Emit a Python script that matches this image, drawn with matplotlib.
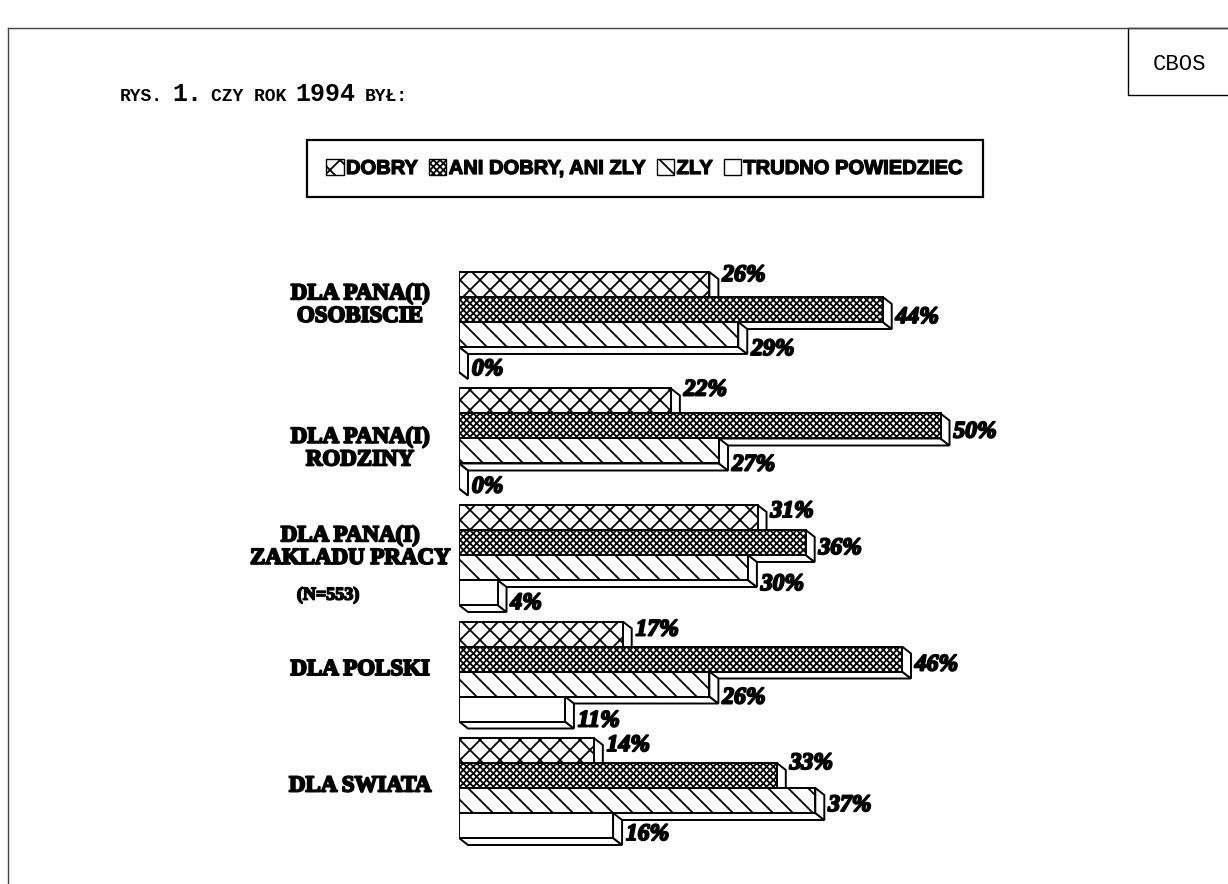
import matplotlib
matplotlib.use("Agg")
import matplotlib.pyplot as plt
from matplotlib.patches import Polygon, Patch, Rectangle
from matplotlib.lines import Line2D
import matplotlib.patheffects as pe

# data (percent)
categories = ["DLA PANA(I)\nOSOBISCIE", "DLA PANA(I)\nRODZINY",
              "DLA PANA(I)\nZAKLADU PRACY", "DLA POLSKI", "DLA SWIATA"]
series = ["DOBRY", "ANI DOBRY, ANI ZLY", "ZLY", "TRUDNO POWIEDZIEC"]
dobry = [26, 22, 31, 17, 14]
ani = [44, 50, 36, 46, 33]
zly = [29, 27, 30, 26, 37]
trudno = [0, 0, 4, 11, 16]
values = [dobry, ani, zly, trudno]

# styles
hatches = ["x", "xxx", "\\", ""]
# vertical nudge of the value labels (pixels, down positive)
label_shift = [[-9, 8, 15, 10],
               [-11, 6, 14, 11],
               [-6, 6, 17, 11],
               [-4, 6, 14, 12],
               [-5, -12, 5, 9]]
# category label position: x centre and offset below group top (pixels)
cat_x = [360, 360, 350, 360, 360]
cat_shift = [33, 60, 42, 48, 48]

W, H = 1228, 884
DPI = 60           # low dpi -> hatch spacing close to the scan
S = 100 / DPI      # point sizes below are given as for 100 dpi
plt.rcParams['hatch.linewidth'] = 1.3 * S
fig = plt.figure(figsize=(W / DPI, H / DPI), dpi=DPI)

# axes placed so that 0% sits at x=459px, 9.63 px per percent, 25 px per bar
PX_X = 9.63
PX_Y = 25.0
ax_left, ax_top, ax_bot = 459, 250, 860
xmax = 70
ax = fig.add_axes([ax_left / W, 1 - ax_bot / H, xmax * PX_X / W, (ax_bot - ax_top) / H])
y0 = (272 - ax_top) / PX_Y
ax.set_xlim(0, xmax)
ax.set_ylim((ax_bot - ax_top) / PX_Y - y0, -y0)
ax.axis("off")

DX = 9 / PX_X
DY = 7 / PX_Y
GROUP = 116.5 / PX_Y

z = 2
for g in range(len(categories)):
    gtop = g * GROUP
    for i in range(len(series)):
        v = values[i][g]
        top = gtop + i
        bot = top + 1
        side = Polygon([(v, top), (v + DX, top + DY), (v + DX, bot + DY), (v, bot)],
                       closed=True, facecolor="white", edgecolor="black", lw=1.4 * S, zorder=z)
        under = Polygon([(0, bot), (v, bot), (v + DX, bot + DY), (DX, bot + DY)],
                        closed=True, facecolor="white", edgecolor="black", lw=1.4 * S, zorder=z)
        ax.add_patch(under)
        ax.add_patch(side)
        ax.barh(top, v, height=1, left=0, align="edge", color="white",
                edgecolor="black", hatch=hatches[i], lw=1.4 * S, zorder=z + 0.5)
        ax.text(v + DX + 0.4, top + 0.5 + label_shift[g][i] / PX_Y, f"{v}%",
                ha="left", va="center", fontsize=17 * S, fontweight="bold", style="italic",
                family="Liberation Serif", zorder=z + 1,
                path_effects=[pe.withStroke(linewidth=1.4 * S, foreground="black")])
        z += 2
    ax.text((cat_x[g] - ax_left) / PX_X, gtop + cat_shift[g] / PX_Y, categories[g],
            ha="center", va="center", fontsize=16.5 * S, fontweight="bold",
            family="Liberation Serif", linespacing=1.1, clip_on=False,
            path_effects=[pe.withStroke(linewidth=1.4 * S, foreground="black")])

# sample size note under the third category
ax.text((328 - ax_left) / PX_X, 2 * GROUP + (595 - 505) / PX_Y, "(N=553)",
        ha="center", va="center", fontsize=13 * S, fontweight="bold",
        family="Liberation Serif", clip_on=False,
        path_effects=[pe.withStroke(linewidth=1.2 * S, foreground="black")])

# legend
handles = [Patch(facecolor="white", edgecolor="black", hatch=h, lw=1.0 * S) for h in hatches]
leg = fig.legend(handles, series, loc="center", bbox_to_anchor=(645 / W, 1 - 168.5 / H),
                 ncol=4, frameon=True, fancybox=False, framealpha=1, edgecolor="black",
                 handlelength=0.85, handleheight=0.85, handletextpad=0.12,
                 columnspacing=0.55, borderpad=0.95,
                 prop={"family": "Liberation Sans", "weight": "bold", "size": 14.5 * S})
leg.get_frame().set_linewidth(1.6 * S)
for t in leg.get_texts():
    t.set_path_effects([pe.withStroke(linewidth=0.9 * S, foreground="black")])

# title in mixed sizes
parts = [("RYS.", 13), ("1.", 18), ("CZY ROK", 13), ("1994", 18), ("BYŁ:", 13)]
fig.canvas.draw()
renderer = fig.canvas.get_renderer()
xpos = 120
for txt, fs in parts:
    t = fig.text(xpos / W, 1 - 101 / H, txt, ha="left", va="baseline", fontsize=fs * S,
                 fontweight="bold", family="Liberation Mono")
    bb = t.get_window_extent(renderer)
    xpos += bb.width + 9

# page frame and CBOS tag
TOP = 28
fig.add_artist(Line2D([8 / W, 1], [1 - TOP / H, 1 - TOP / H], color="#444444", lw=1.0 * S))
fig.add_artist(Line2D([8 / W, 8 / W], [0, 1 - TOP / H], color="#444444", lw=1.0 * S))
fig.add_artist(Rectangle((1128 / W, 1 - 95 / H), 120 / W, (95 - TOP) / H, facecolor="white",
                         edgecolor="black", lw=1.0 * S, transform=fig.transFigure))
fig.text(1180 / W, 1 - 64 / H, "CBOS", ha="center", va="center", fontsize=16 * S,
         family="Liberation Mono")

fig.savefig("out.png", dpi=DPI)
